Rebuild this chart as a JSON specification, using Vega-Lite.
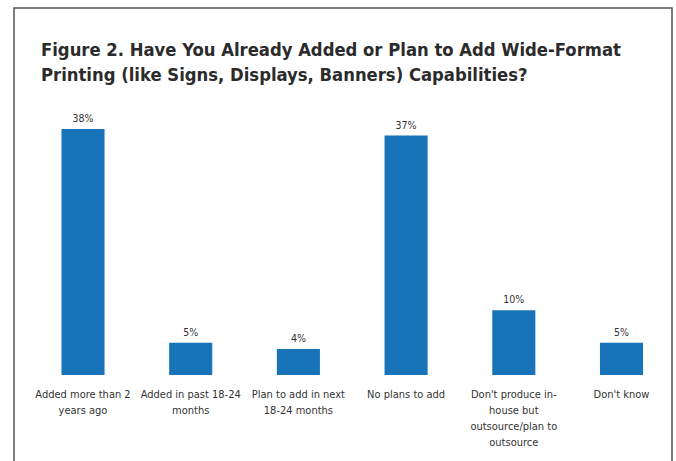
{
  "$schema": "https://vega.github.io/schema/vega-lite/v6.json",
  "autosize": {"type": "none"},
  "padding": {"left": 14, "top": 8, "right": 4, "bottom": 0},
  "width": 658,
  "height": 470,
  "background": "#ffffff",
  "config": {
    "view": {"stroke": "#555555", "strokeWidth": 1.5},
    "font": "DejaVu Sans Condensed, Roboto, sans-serif"
  },
  "title": {
    "text": ["Figure 2. Have You Already Added or Plan to Add Wide-Format", "Printing (like Signs, Displays, Banners) Capabilities?"],
    "anchor": "start",
    "frame": "group",
    "orient": "top",
    "baseline": "top",
    "offset": -77,
    "dx": 27,
    "font": "DejaVu Sans Condensed, Roboto, sans-serif",
    "fontSize": 18.3,
    "fontWeight": "bold",
    "color": "#2b2b2b",
    "lineHeight": 25
  },
  "data": {
    "values": [
      {"category": "Added more than 2 years ago", "label": "Added more than 2\nyears ago", "value": 0.38},
      {"category": "Added in past 18-24 months", "label": "Added in past 18-24\nmonths", "value": 0.05},
      {"category": "Plan to add in next 18-24 months", "label": "Plan to add in next\n18-24 months", "value": 0.04},
      {"category": "No plans to add", "label": "No plans to add", "value": 0.37},
      {"category": "Don't produce in-house but outsource/plan to outsource", "label": "Don't produce in-\nhouse but\noutsource/plan to\noutsource", "value": 0.10},
      {"category": "Don't know", "label": "Don't know", "value": 0.05}
    ]
  },
  "encoding": {
    "x": {
      "field": "category",
      "type": "nominal",
      "sort": null,
      "axis": null,
      "scale": {"range": [15.15, 661.35], "paddingInner": 0.6, "paddingOuter": 0.3}
    }
  },
  "layer": [
    {
      "mark": {"type": "bar", "color": "#1874b9"},
      "encoding": {
        "y": {"field": "value", "type": "quantitative", "axis": null, "scale": {"domain": [-0.1592, 0.5672], "nice": false, "zero": false}},
        "y2": {"datum": 0}
      }
    },
    {
      "mark": {"type": "text", "baseline": "bottom", "dy": -5, "fontSize": 10.5, "color": "#333333"},
      "encoding": {
        "y": {"field": "value", "type": "quantitative"},
        "text": {"field": "value", "type": "quantitative", "format": ".0%"}
      }
    },
    {
      "mark": {"type": "text", "baseline": "top", "dy": 14, "fontSize": 11, "lineHeight": 16, "lineBreak": "\n", "color": "#333333", "align": "center"},
      "encoding": {
        "y": {"datum": 0, "type": "quantitative"},
        "text": {"field": "label"}
      }
    }
  ]
}
